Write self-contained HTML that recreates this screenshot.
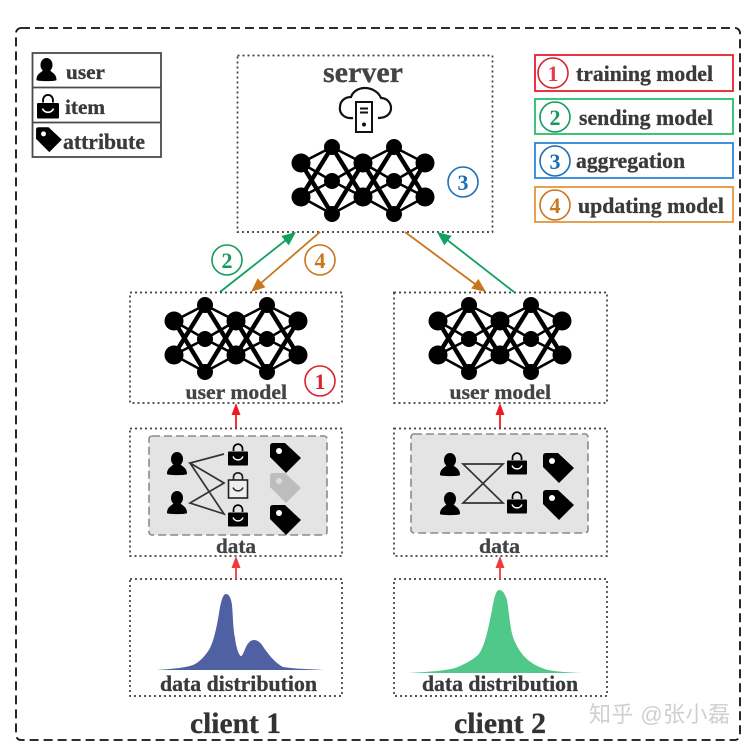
<!DOCTYPE html>
<html><head><meta charset="utf-8">
<style>
html,body{margin:0;padding:0;background:#fff;width:749px;height:747px;overflow:hidden}
svg{display:block}
text{font-family:"Liberation Serif","Noto Serif CJK SC",serif;font-weight:bold;fill:#3a3a3a;stroke:#3a3a3a;stroke-width:.3}
.d{fill:none;stroke:#3f3f3f;stroke-width:1.700;stroke-dasharray:2 3}
.num{font-size:22px;text-anchor:middle;stroke:none}
</style></head><body>
<svg width="749" height="747" viewBox="0 0 749 747" xmlns="http://www.w3.org/2000/svg">
<defs>
<g id="net">
<path d="M0 16L31 0M0 16L31 34M0 50L31 34M0 50L31 67M62 16L31 0M62 16L31 34M62 50L31 34M62 50L31 67M62 16L93 0M62 16L93 34M62 50L93 34M62 50L93 67M124 16L93 0M124 16L93 34M124 50L93 34M124 50L93 67" stroke="#000" stroke-width="2.600" fill="none"/>
<path d="M0 16L31 67M0 50L31 0M62 16L31 67M62 50L31 0M62 16L93 67M62 50L93 0M124 16L93 67M124 50L93 0" stroke="#000" stroke-width="4.400" fill="none"/>
<g fill="#000">
<circle cx="0" cy="16" r="9.500"/><circle cx="0" cy="50" r="9.500"/>
<circle cx="31" cy="0" r="8"/><circle cx="31" cy="34" r="8"/><circle cx="31" cy="67" r="8"/>
<circle cx="62" cy="16" r="9.500"/><circle cx="62" cy="50" r="9.500"/>
<circle cx="93" cy="0" r="8"/><circle cx="93" cy="34" r="8"/><circle cx="93" cy="67" r="8"/>
<circle cx="124" cy="16" r="9.500"/><circle cx="124" cy="50" r="9.500"/>
</g>
</g>
<g id="user">
<ellipse cx="0" cy="-5" rx="6" ry="7" fill="#000"/>
<path d="M-10 10C-10 4-6 3-3 0H3C6 3 10 4 10 10C10 11.500-10 11.500-10 10Z" fill="#000"/>
</g>
<g id="bag">
<path d="M-4.500 -5V-7C-4.500 -13.500 4.500 -13.500 4.500 -7V-5" fill="none" stroke="#000" stroke-width="1.700"/>
<rect x="-10" y="-4.500" width="20" height="14" rx="1" fill="#000"/>
<path d="M-5 0.500C-3 5 3 5 5 0.500" fill="none" stroke="#fff" stroke-width="1.500"/>
</g>
<g id="bago">
<path d="M-4.500 -5V-8C-4.500 -13.500 4.500 -13.500 4.500 -8V-5" fill="none" stroke="#222" stroke-width="1.700"/>
<rect x="-9.500" y="-5" width="19" height="18" fill="#eee" stroke="#222" stroke-width="1.600"/>
<path d="M-5 2.500C-3 7 3 7 5 2.500" fill="none" stroke="#222" stroke-width="1.500"/>
</g>
<g id="tag">
<path d="M-15 -10Q-15 -13-12 -13H0L16 2L1 17L-15 1Z" fill="#000"/>
<circle cx="-6" cy="-5" r="3" fill="#fff"/>
</g>
<g id="tagg">
<path d="M-15 -10Q-15 -13-12 -13H0L16 2L1 17L-15 1Z" fill="#bdbdbd"/>
<circle cx="-6" cy="-5" r="3" fill="#ddd"/>
</g>
</defs>

<rect x="16" y="28" width="724" height="712" rx="5" fill="none" stroke="#111" stroke-width="1.800" stroke-dasharray="9 5"/>

<!-- left legend -->
<rect x="32.500" y="53" width="128.500" height="104" fill="#fff" stroke="#4a4a4a" stroke-width="1.800"/>
<path d="M32.500 87.500H161M32.500 122.500H161" stroke="#4a4a4a" stroke-width="1.800"/>
<use href="#user" x="46.500" y="70"/>
<use href="#bag" transform="translate(48 108) scale(1.100)"/>
<use href="#tag" transform="translate(48.500 138) scale(.83)"/>
<text x="66" y="79" font-size="21" textLength="39" lengthAdjust="spacingAndGlyphs">user</text>
<text x="65" y="114" font-size="21" textLength="40" lengthAdjust="spacingAndGlyphs">item</text>
<text x="63" y="149" font-size="21.700" textLength="82" lengthAdjust="spacingAndGlyphs">attribute</text>

<!-- right legend -->
<rect x="535" y="55" width="198" height="36" fill="none" stroke="#e8202e" stroke-width="1.800"/>
<rect x="535" y="99" width="198" height="35" fill="none" stroke="#25bd6e" stroke-width="1.800"/>
<rect x="535" y="143" width="198" height="35" fill="none" stroke="#2b86d6" stroke-width="1.800"/>
<rect x="535" y="187" width="198" height="35" fill="none" stroke="#e8943c" stroke-width="1.800"/>
<circle cx="553" cy="73" r="15" fill="none" stroke="#d9232e" stroke-width="1.600"/>
<text class="num" x="553" y="81" style="fill:#e33b48">1</text>
<circle cx="555" cy="117" r="15" fill="none" stroke="#159a5e" stroke-width="1.600"/>
<text class="num" x="555" y="125" style="fill:#159a5e">2</text>
<circle cx="555" cy="161" r="15" fill="none" stroke="#1b6fb8" stroke-width="1.600"/>
<text class="num" x="555" y="169" style="fill:#1b6fb8">3</text>
<circle cx="555" cy="205" r="15" fill="none" stroke="#c9761d" stroke-width="1.600"/>
<text class="num" x="555" y="213" style="fill:#c9761d">4</text>
<text x="576" y="81" font-size="21.700" textLength="137" lengthAdjust="spacingAndGlyphs">training model</text>
<text x="579" y="125" font-size="21.700" textLength="134" lengthAdjust="spacingAndGlyphs">sending model</text>
<text x="576" y="168" font-size="21.700" textLength="109" lengthAdjust="spacingAndGlyphs">aggregation</text>
<text x="578" y="213" font-size="21.700" textLength="146" lengthAdjust="spacingAndGlyphs">updating model</text>

<!-- server -->
<rect class="d" x="237.500" y="55.500" width="255" height="176.500"/>
<text x="323" y="82" font-size="30" textLength="80" lengthAdjust="spacingAndGlyphs" style="fill:#444;stroke:#444">server</text>
<path d="M353 118C344 119 339 113 340 107C340 101 345 97 351 97C353 91 359 88 365 88C373 88 379 93 381 98C387 98 391 103 391 108C391 114 386 118 378 118" fill="none" stroke="#111" stroke-width="2.200"/>
<rect x="356" y="102" width="16" height="30" fill="#fff" stroke="#111" stroke-width="2"/>
<path d="M360 108.500h8M360 112.500h8" stroke="#111" stroke-width="2"/>
<circle cx="364" cy="124.500" r="2" fill="#111"/>
<use href="#net" x="301" y="147"/>
<circle cx="463" cy="182" r="15" fill="none" stroke="#1b6fb8" stroke-width="1.600"/>
<text class="num" x="463" y="190" style="fill:#1b6fb8">3</text>

<!-- arrows server/client -->
<path d="M220 292L286 240" stroke="#12a060" stroke-width="1.800"/>
<path d="M296 232L288.700 245.400L281.300 236Z" fill="#12a060"/>
<path d="M320 232L261 283" stroke="#c9761d" stroke-width="1.800"/>
<path d="M251 292L265.500 287.300L257.700 278.300Z" fill="#c9761d"/>
<path d="M405 232L475 284" stroke="#c9761d" stroke-width="1.800"/>
<path d="M486 292L478.400 278.900L471.200 288.500Z" fill="#c9761d"/>
<path d="M514 292L448 240.600" stroke="#12a060" stroke-width="1.800"/>
<path d="M437 232L451.700 235.900L444.300 245.300Z" fill="#12a060"/>
<circle cx="227" cy="260" r="15" fill="none" stroke="#159a5e" stroke-width="1.600"/>
<text class="num" x="227" y="268" style="fill:#159a5e">2</text>
<circle cx="320" cy="260" r="15" fill="none" stroke="#c9761d" stroke-width="1.600"/>
<text class="num" x="320" y="268" style="fill:#c9761d">4</text>

<!-- client 1 -->
<rect class="d" x="130" y="292.500" width="212" height="110.500"/>
<rect class="d" x="130" y="428.500" width="212" height="127.500"/>
<rect class="d" x="130" y="579" width="212" height="117"/>
<use href="#net" x="174" y="305"/>
<circle cx="320" cy="381" r="15" fill="none" stroke="#d9232e" stroke-width="1.600"/>
<text class="num" x="320" y="389" style="fill:#d9232e">1</text>
<text x="185.500" y="399" font-size="21.500" textLength="101.500" lengthAdjust="spacingAndGlyphs" style="fill:#444;stroke:#444">user model</text>
<rect x="149" y="436" width="178" height="99" rx="3" fill="#e4e4e4" stroke="#8a8a8a" stroke-width="1.600" stroke-dasharray="8 4"/>
<use href="#user" x="177" y="464"/><use href="#user" x="177" y="503"/>
<use href="#bag" x="238" y="456"/><use href="#bago" x="238" y="485"/><use href="#bag" x="238" y="517"/>
<use href="#tag" x="285" y="456"/><use href="#tagg" x="285" y="486"/><use href="#tag" x="285" y="518"/>
<path d="M224 454L190 463L224 483L190 503L224 514L190 463" fill="none" stroke="#333" stroke-width="1.700"/>
<text x="216" y="553" font-size="21.500" textLength="40" lengthAdjust="spacingAndGlyphs" style="fill:#444;stroke:#444">data</text>
<path d="M157 670C170 669 185 668 193 665C200 662 206 655 210 648C215 638 218 620 220 607C222 597 224 594 226 594C229 594 231 598 232 605C233 615 233 630 235 638C236 647 239 656 241 656C243 656 245 648 247 645C249 642 251 640 254 640C257 640 260 642 262 645C268 654 275 663 283 667C295 669 310 669 323 670Z" fill="#4f61a3"/>
<text x="160" y="691" font-size="21.800" textLength="157" lengthAdjust="spacingAndGlyphs">data distribution</text>
<text x="190" y="733" font-size="29.500" textLength="91" lengthAdjust="spacingAndGlyphs" style="fill:#333;stroke:#333">client 1</text>
<path d="M236 428V412" stroke="#f01a24" stroke-width="1.800"/><path d="M236 403L231.500 415H240.500Z" fill="#f01a24"/>
<path d="M236 579V566" stroke="#f03a3a" stroke-width="1.800"/><path d="M236 556L231.500 568H240.500Z" fill="#f03a3a"/>

<!-- client 2 -->
<rect class="d" x="394" y="292.500" width="213" height="110.500"/>
<rect class="d" x="394" y="428.500" width="213" height="127.500"/>
<rect class="d" x="394" y="579" width="213" height="117"/>
<use href="#net" x="438" y="305"/>
<text x="449.500" y="399" font-size="21.500" textLength="101.500" lengthAdjust="spacingAndGlyphs" style="fill:#444;stroke:#444">user model</text>
<rect x="411" y="434" width="177" height="99" rx="3" fill="#e4e4e4" stroke="#8a8a8a" stroke-width="1.600" stroke-dasharray="8 4"/>
<use href="#user" x="450" y="465"/><use href="#user" x="450" y="504"/>
<use href="#bag" x="517" y="465"/><use href="#bag" x="517" y="504"/>
<use href="#tag" x="558" y="466"/><use href="#tag" x="558" y="503"/>
<path d="M463 464H503L463 503H503Z" fill="none" stroke="#333" stroke-width="1.700"/>
<text x="479" y="553" font-size="21.500" textLength="41" lengthAdjust="spacingAndGlyphs" style="fill:#444;stroke:#444">data</text>
<path d="M409 673C425 672 445 671 455 668C463 665 471 661 478 655C485 647 489 625 492 610C494 598 496 590 499 590C503 590 505 594 507 600C509 612 510 628 513 637C517 648 522 655 528 660C534 665 541 668 548 670C560 672 575 673 590 673Z" fill="#4fc88a"/>
<text x="422" y="691" font-size="21.800" textLength="156" lengthAdjust="spacingAndGlyphs">data distribution</text>
<text x="454" y="733" font-size="29.500" textLength="92" lengthAdjust="spacingAndGlyphs" style="fill:#333;stroke:#333">client 2</text>
<path d="M500 428V412" stroke="#f01a24" stroke-width="1.800"/><path d="M500 403L495.500 415H504.500Z" fill="#f01a24"/>
<path d="M500 579V566" stroke="#f03a3a" stroke-width="1.800"/><path d="M500 556L495.500 568H504.500Z" fill="#f03a3a"/>

<!-- watermark -->
<text x="589" y="722" font-size="22" textLength="141" style="font-family:'Liberation Sans','Noto Sans CJK SC',sans-serif;font-weight:normal;fill:#cfcfcf;stroke:none">知乎 @张小磊</text>
</svg>
</body></html>
